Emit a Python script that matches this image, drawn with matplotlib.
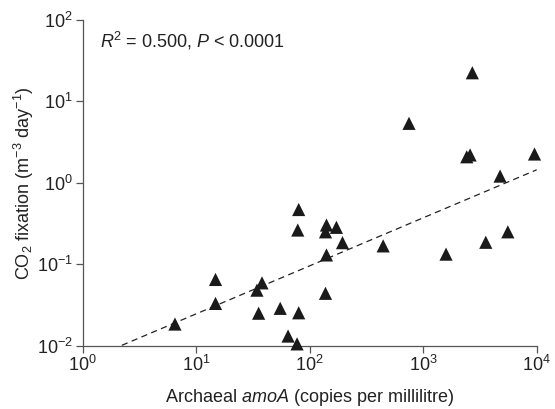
import numpy as np
import matplotlib
matplotlib.use('Agg')
import matplotlib.pyplot as plt

plt.rcParams['font.family'] = ['Liberation Sans', 'DejaVu Sans']
plt.rcParams['mathtext.fontset'] = 'custom'
plt.rcParams['mathtext.rm'] = 'Liberation Sans'
plt.rcParams['mathtext.it'] = 'Liberation Sans:italic'

# 古菌 amoA 拷贝数 vs CO2 固定速率
amoa_copies = [6.5, 14.8, 14.8, 38, 34.3, 35.5, 55, 80, 64.5, 77.4,
               80, 78.5, 140.6, 137.8, 172, 194.6, 140.6, 137.8, 444, 1590,
               3560, 5570, 2710, 750, 2420, 2590, 9570, 4760]
co2_fixation = [0.0184, 0.065, 0.033, 0.059, 0.048, 0.025, 0.0287, 0.0253, 0.0131, 0.0105,
                0.47, 0.263, 0.303, 0.25, 0.284, 0.184, 0.130, 0.0439, 0.168, 0.133,
                0.186, 0.25, 22.5, 5.38, 2.09, 2.2, 2.26, 1.21]

# 回归线 log10(y) = a + b*log10(x)
fit_a = -2.2
fit_b = 0.59

FS = 13

fig = plt.figure(figsize=(5.55, 4.09), dpi=100)
ax = fig.add_axes([0.149, 0.155, 0.818, 0.796])

ax.scatter(amoa_copies, co2_fixation, marker='^', s=90, color='#1a1a1a',
           edgecolors='none', zorder=3, clip_on=False)

xs = np.logspace(0, 4, 200)
ax.plot(xs, 10 ** (fit_a + fit_b * np.log10(xs)), ls=(0, (5, 3.5)),
        color='#222222', lw=0.9, zorder=2)

ax.set_xscale('log')
ax.set_yscale('log')
ax.set_xlim(1, 1e4)
ax.set_ylim(1e-2, 1e2)
ax.minorticks_off()

for s in ['top', 'right']:
    ax.spines[s].set_visible(False)
for s in ['left', 'bottom']:
    ax.spines[s].set_color('#555555')
    ax.spines[s].set_linewidth(0.9)
ax.tick_params(axis='both', which='major', direction='out', length=5,
               width=0.9, color='#555555', labelsize=FS, labelcolor='#222222')
ax.tick_params(axis='y', pad=2)
ax.tick_params(axis='x', pad=2)

ax.set_xlabel('Archaeal $\\it{amoA}$ (copies per millilitre)', fontsize=FS,
              color='#222222', labelpad=8)
ax.set_ylabel('CO$_2$ fixation (m$^{\u22123}$ day$^{\u22121}$)', fontsize=FS,
              color='#222222', labelpad=1)

ax.text(0.038, 0.97, '$\\it{R}$$^2$ = 0.500, $\\it{P}$ < 0.0001', transform=ax.transAxes,
        fontsize=FS, color='#222222', va='top', ha='left')

fig.savefig('out.png', dpi=100)
